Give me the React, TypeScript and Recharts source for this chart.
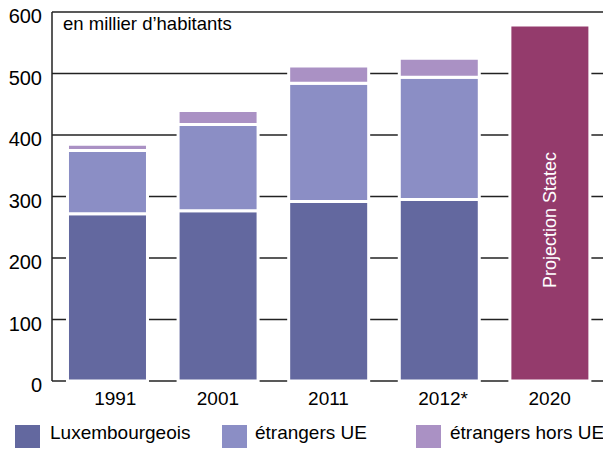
import React from 'react';
import { BarChart, Bar, XAxis, YAxis, CartesianGrid, Legend, LabelList } from 'recharts';

const years = ['1991', '2001', '2011', '2012*', '2020'];
const luxembourgeois = [272, 277, 292, 295, null];
const etrangersUE = [103, 140, 192, 199, null];
const etrangersHorsUE = [10, 23, 28, 31, null];
const projection = [null, null, null, null, 579];
const yTicks = [0, 100, 200, 300, 400, 500, 600];
const unitLabel = 'en millier d\u2019habitants';
const projectionLabel = 'Projection Statec';

const seriesNames = ['Luxembourgeois', '\u00e9trangers UE', '\u00e9trangers hors UE'];
const seriesColors = ['#63689F', '#8B8EC5', '#AA91C4'];
const projColor = '#943B6C';

const data = years.map((y, i) => ({
  year: y,
  lux: luxembourgeois[i],
  ue: etrangersUE[i],
  hors: etrangersHorsUE[i],
  proj: projection[i],
}));

const FONT = '"Liberation Sans", Arial, sans-serif';

const XTick = (props: any) => {
  const { x, y, payload, index } = props;
  const v = String(payload.value);
  const dx = index === 0 ? 8 : v.endsWith('*') ? 4 : 0;
  return (
    <text x={x + dx} y={y} dy="0.71em" textAnchor="middle" fontSize={19} fill="#000" fontFamily={FONT}>
      {v}
    </text>
  );
};

const YTick = (props: any) => {
  const { x, y, payload } = props;
  return (
    <text x={x} y={y + 4} dy="0.355em" textAnchor="end" fontSize={20} fill="#000" fontFamily={FONT}>
      {payload.value}
    </text>
  );
};

const UnitLabel = (props: any) => {
  const vb = props.viewBox || {};
  return (
    <text x={vb.x + vb.width + 11} y={vb.y + 18} fontSize={18.5} fill="#000" fontFamily={FONT}>
      {unitLabel}
    </text>
  );
};

const ProjLabel = (props: any) => {
  const { x, y, width, height, value } = props;
  if (value == null) return null;
  const cx = x + width / 2;
  const cy = y + height / 2 + 17;
  return (
    <text
      x={cx}
      y={cy}
      transform={`rotate(-90 ${cx} ${cy})`}
      textAnchor="middle"
      dominantBaseline="central"
      fontSize={18}
      fill="#fff"
      fontFamily={FONT}
    >
      {projectionLabel}
    </text>
  );
};

const legendPos = [
  { sx: 15, tx: 50 },
  { sx: 222, tx: 255 },
  { sx: 416, tx: 450 },
];

const LegendContent = () => (
  <div style={{ position: 'relative', width: 603, height: 32, fontFamily: FONT }}>
    {seriesNames.map((n, i) => (
      <React.Fragment key={n}>
        <div
          style={{
            position: 'absolute',
            left: legendPos[i].sx,
            top: 10,
            width: 25,
            height: 23,
            background: seriesColors[i],
          }}
        />
        <div
          style={{
            position: 'absolute',
            left: legendPos[i].tx,
            top: 8,
            fontSize: 19,
            lineHeight: '20px',
            color: '#000',
            whiteSpace: 'nowrap',
          }}
        >
          {n}
        </div>
      </React.Fragment>
    ))}
  </div>
);

export default function App() {
  return (
    <div style={{ position: 'absolute', left: 0, top: 0, width: 603, height: 450, overflow: 'hidden', background: '#fff' }}>
      <BarChart
        width={620}
        height={450}
        data={data}
        margin={{ top: 12, right: 15, bottom: 7, left: 0 }}
        barCategoryGap="14%"
      >
        <CartesianGrid vertical={false} stroke="#222" strokeWidth={1.5} />
        <XAxis
          dataKey="year"
          axisLine={false}
          tickLine={false}
          tick={<XTick />}
          tickMargin={5}
          height={30}
          interval={0}
        />
        <YAxis
          domain={[0, 600]}
          ticks={yTicks}
          width={52}
          axisLine={{ stroke: '#222', strokeWidth: 1.5 }}
          tickLine={false}
          tickMargin={4}
          tick={<YTick />}
          label={<UnitLabel />}
        />
        <Legend
          verticalAlign="bottom"
          content={<LegendContent />}
          wrapperStyle={{ left: 0, top: 415, bottom: 'auto', width: 603, height: 32 }}
        />
        <Bar dataKey="lux" stackId="a" fill={seriesColors[0]} stroke="#fff" strokeWidth={3} isAnimationActive={false} />
        <Bar dataKey="ue" stackId="a" fill={seriesColors[1]} stroke="#fff" strokeWidth={3} isAnimationActive={false} />
        <Bar dataKey="hors" stackId="a" fill={seriesColors[2]} stroke="#fff" strokeWidth={3} isAnimationActive={false} />
        <Bar dataKey="proj" stackId="a" fill={projColor} stroke="#fff" strokeWidth={3} isAnimationActive={false} legendType="none">
          <LabelList dataKey="proj" content={<ProjLabel />} />
        </Bar>
      </BarChart>
    </div>
  );
}
